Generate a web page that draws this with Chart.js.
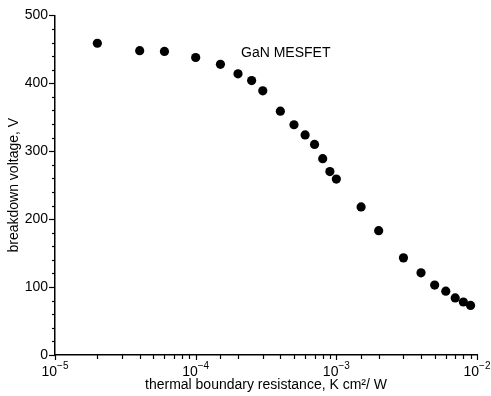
<!DOCTYPE html>
<html><head><meta charset="utf-8">
<script src="https://cdn.jsdelivr.net/npm/chart.js@4/dist/chart.umd.min.js"></script>
<style>html,body{margin:0;padding:0;background:#fff;}#wrap{width:491px;height:396px;}</style>
</head><body><div id="wrap"><canvas id="c" width="491" height="396"></canvas></div>
<script>
// Data
const resistance = [2e-5,4e-5,6e-5,1e-4,1.5e-4,2e-4,2.5e-4,3e-4,4e-4,5e-4,6e-4,7e-4,8e-4,9e-4,1e-3,1.5e-3,2e-3,3e-3,4e-3,5e-3,6e-3,7e-3,8e-3,9e-3];
const breakdownVoltage = [459,448,447,438,428,414,404,389,359,339,324,310,289,270,259,218,183,143,121,103,94,84,78,73];
const xTickExponents = [-5,-4,-3,-2];
const yTickLabels = [0,100,200,300,400,500];
const annotationText = 'GaN MESFET';
const xTitle = 'thermal boundary resistance, K cm\u00B2/ W';
const yTitle = 'breakdown voltage, V';

const FONT = '"Liberation Sans", Arial, Helvetica, sans-serif';
Chart.defaults.font.family = FONT;
Chart.defaults.font.size = 14;
Chart.defaults.color = '#000';

const axisDecor = {
  id: 'axisDecor',
  afterDraw(chart) {
    const ctx = chart.ctx;
    const xs = chart.scales.x, ys = chart.scales.y;
    const area = chart.chartArea;
    ctx.save();
    ctx.strokeStyle = '#000';
    ctx.lineWidth = 1.2;
    for (let v = ys.min; v <= ys.max; v += 20) {
      const py = Math.round(ys.getPixelForValue(v)) + 0.5;
      const len = yTickLabels.includes(v) ? 6 : 3;
      ctx.beginPath(); ctx.moveTo(area.left - len, py); ctx.lineTo(area.left, py); ctx.stroke();
    }
    xs.ticks.forEach(t => {
      const e = Math.log10(t.value);
      const major = Math.abs(e - Math.round(e)) < 1e-9;
      const px = Math.round(xs.getPixelForValue(t.value)) + 0.5;
      const len = major ? 5 : 4;
      ctx.beginPath(); ctx.moveTo(px, area.bottom); ctx.lineTo(px, area.bottom + len); ctx.stroke();
    });
    ctx.fillStyle = '#000';
    ctx.textBaseline = 'alphabetic';
    xTickExponents.forEach(e => {
      const px = xs.getPixelForValue(Math.pow(10, e));
      const base = '10', sup = '\u2212' + Math.abs(e);
      ctx.font = '14px ' + FONT;
      const wb = ctx.measureText(base).width;
      ctx.font = '10px ' + FONT;
      const ws = ctx.measureText(sup).width;
      const x0 = px - (wb + ws) / 2;
      ctx.font = '14px ' + FONT;
      ctx.textAlign = 'left';
      ctx.fillText(base, x0, area.bottom + 21);
      ctx.font = '10px ' + FONT;
      ctx.fillText(sup, x0 + wb, area.bottom + 14);
    });
    ctx.font = '14px ' + FONT;
    ctx.textAlign = 'left';
    ctx.textBaseline = 'middle';
    ctx.fillText(annotationText, xs.getPixelForValue(2.1e-4), ys.getPixelForValue(445));
    ctx.restore();
  }
};

new Chart(document.getElementById('c'), {
  type: 'scatter',
  data: {
    datasets: [{
      data: resistance.map((r, i) => ({x: r, y: breakdownVoltage[i]})),
      backgroundColor: '#000',
      borderWidth: 0,
      pointRadius: 4.6,
      pointHoverRadius: 4.6
    }]
  },
  options: {
    responsive: false,
    animation: false,
    devicePixelRatio: 1,
    layout: {padding: {top: 15, right: 14, left: 0, bottom: 0}},
    plugins: {legend: {display: false}, tooltip: {enabled: false}},
    scales: {
      x: {
        type: 'logarithmic',
        min: 1e-5, max: 1e-2,
        grid: {display: false, drawTicks: false},
        border: {display: true, color: '#000', width: 1.5},
        ticks: {display: false},
        title: {display: true, text: xTitle, color: '#000', font: {size: 14}, padding: {top: 0, bottom: 2}},
        afterFit(s) { s.height = 41; }
      },
      y: {
        min: 0, max: 500,
        grid: {display: false, drawTicks: false},
        border: {display: true, color: '#000', width: 1.5},
        ticks: {
          stepSize: 20, autoSkip: false, padding: 7, color: '#000', font: {size: 14},
          callback: v => yTickLabels.includes(v) ? String(v) : ''
        },
        title: {display: true, text: yTitle, color: '#000', font: {size: 14}, padding: {top: 6, bottom: 0}},
        afterFit(s) { s.width = 55; }
      }
    }
  },
  plugins: [axisDecor]
});
</script></body></html>
